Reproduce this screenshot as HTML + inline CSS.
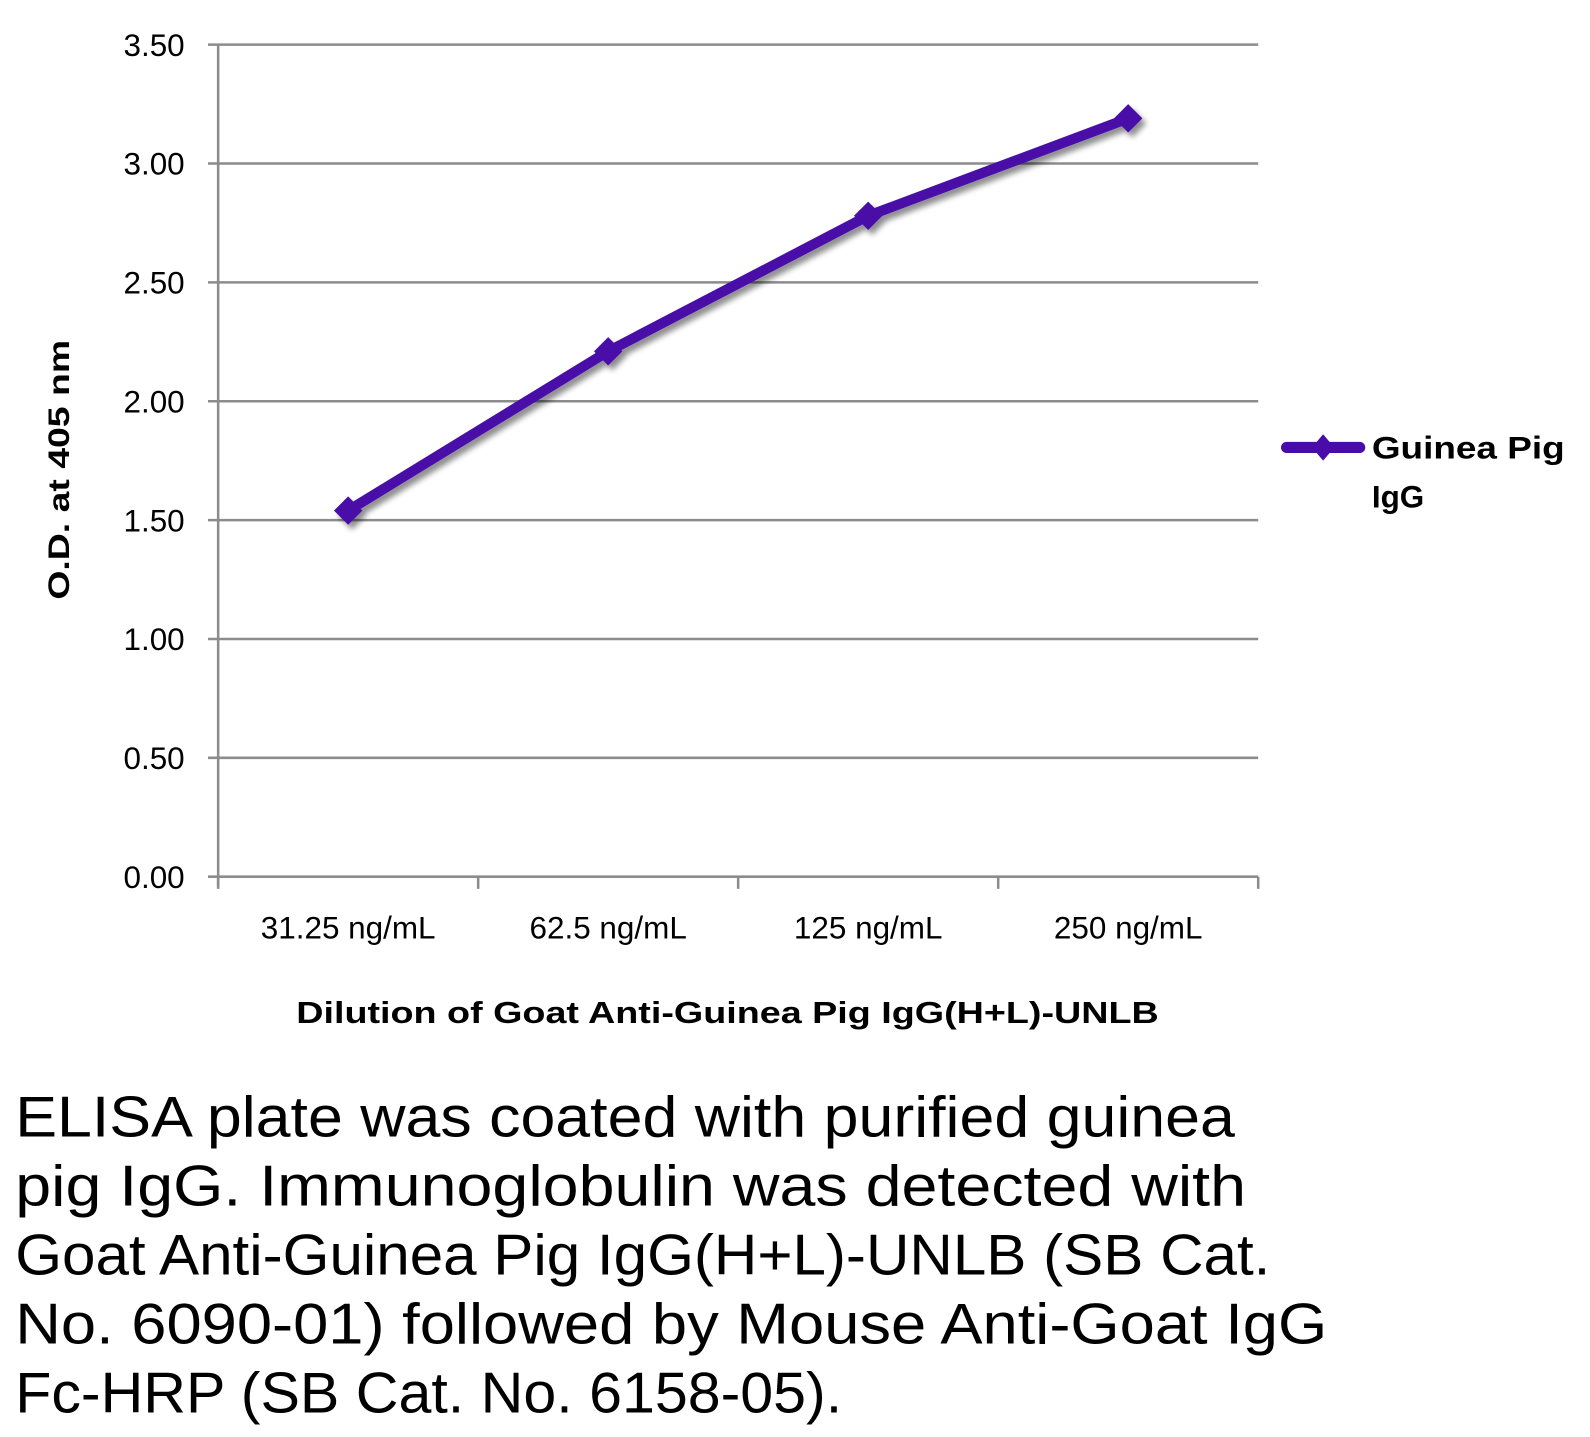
<!DOCTYPE html>
<html><head><meta charset="utf-8"><style>
html,body{margin:0;padding:0;background:#fff;}
svg{display:block;font-family:"Liberation Sans",sans-serif;}
</style></head><body>
<svg id="chart" width="1590" height="1437" viewBox="0 0 1567 1416.2" preserveAspectRatio="none" xmlns="http://www.w3.org/2000/svg">
<defs>
<filter id="sh" x="-20%" y="-20%" width="140%" height="140%"><feGaussianBlur in="SourceAlpha" stdDeviation="3"/><feOffset dx="4" dy="5"/><feComponentTransfer><feFuncA type="linear" slope="0.45"/></feComponentTransfer><feMerge><feMergeNode/><feMergeNode in="SourceGraphic"/></feMerge></filter>
</defs>
<g id="grid"></g>
<g id="yticks"></g>
<g id="xticks"></g>
<g id="series" filter="url(#sh)"></g>
<text transform="translate(68,463) rotate(-90)" text-anchor="middle" font-size="29" font-weight="bold" textLength="256" lengthAdjust="spacingAndGlyphs">O.D. at 405 nm</text>
<text x="717" y="1008" text-anchor="middle" font-size="30" font-weight="bold" textLength="850" lengthAdjust="spacingAndGlyphs">Dilution of Goat Anti-Guinea Pig IgG(H+L)-UNLB</text>
<g>
<line x1="1268" y1="441" x2="1340" y2="441" stroke="#4A0CA8" stroke-width="11" stroke-linecap="round"/>
<polygon points="1304,428 1315,441 1304,454 1293,441" fill="#4A0CA8"/>
<text x="1352" y="452" font-size="31" font-weight="bold" textLength="190" lengthAdjust="spacingAndGlyphs">Guinea Pig</text>
<text x="1352" y="500" font-size="31" font-weight="bold">IgG</text>
</g>
<g font-size="57" fill="#000">
<text x="15" y="1120" textLength="1202" lengthAdjust="spacingAndGlyphs">ELISA plate was coated with purified guinea</text>
<text x="15" y="1188" textLength="1213" lengthAdjust="spacingAndGlyphs">pig IgG.  Immunoglobulin was detected with</text>
<text x="15" y="1256" textLength="1237" lengthAdjust="spacingAndGlyphs">Goat Anti-Guinea Pig IgG(H+L)-UNLB (SB Cat.</text>
<text x="15" y="1324" textLength="1293" lengthAdjust="spacingAndGlyphs">No. 6090-01) followed by Mouse Anti-Goat IgG</text>
<text x="15" y="1392" textLength="815" lengthAdjust="spacingAndGlyphs">Fc-HRP (SB Cat. No. 6158-05).</text>
</g>
</svg>
<script>
const categories = ["31.25 ng/mL","62.5 ng/mL","125 ng/mL","250 ng/mL"];
const values = [1.54, 2.21, 2.78, 3.19];
const yTicks = [0, 0.5, 1, 1.5, 2, 2.5, 3, 3.5];
const yTickLabels = ["0.00","0.50","1.00","1.50","2.00","2.50","3.00","3.50"];

const NS="http://www.w3.org/2000/svg";
const X0=215, X1=1240, Y0=864, Y1=44, YMAX=3.5;
const yScale=v=>Y0-(v/YMAX)*(Y0-Y1);
const band=(X1-X0)/categories.length;
const xScale=i=>X0+band*(i+0.5);
function mk(tag,attrs,parent){const e=document.createElementNS(NS,tag);for(const k in attrs)e.setAttribute(k,attrs[k]);parent.appendChild(e);return e;}
const grid=document.getElementById('grid'), yt=document.getElementById('yticks'), xt=document.getElementById('xticks'), ser=document.getElementById('series');
yTicks.forEach((v,i)=>{
  const y=yScale(v);
  const l=mk('line',{x1:X0-10,x2:X1,y1:y,y2:y,stroke:'#8c8c8c','stroke-width':2.5},grid);
  
  
  const t=mk('text',{x:182,y:y+11,'text-anchor':'end','font-size':31},yt);
  t.textContent=yTickLabels[i];
  
  
});
const ax=mk('line',{x1:X0,x2:X0,y1:Y1,y2:Y0+10,stroke:'#8c8c8c','stroke-width':2.5},grid);


for(let i=0;i<=categories.length;i++){
  const x=X0+band*i;
  const tk=mk('line',{x1:x,x2:x,y1:Y0,y2:Y0+12,stroke:'#8c8c8c','stroke-width':2.5},grid);
  
  
}
categories.forEach((c,i)=>{
  const t=mk('text',{x:xScale(i),y:925,'text-anchor':'middle','font-size':31},xt);
  t.textContent=c;
  
  
});
const pts=values.map((v,i)=>xScale(i)+','+yScale(v)).join(' ');
const pl=mk('polyline',{points:pts,fill:'none',stroke:'#4A0CA8','stroke-width':10,'stroke-linejoin':'round','stroke-linecap':'round'},ser);


values.forEach((v,i)=>{
  const x=xScale(i),y=yScale(v);
  const d=mk('polygon',{points:`${x},${y-14} ${x+14},${y} ${x},${y+14} ${x-14},${y}`,fill:'#4A0CA8'},ser);
  
  
});
</script>
</body></html>
